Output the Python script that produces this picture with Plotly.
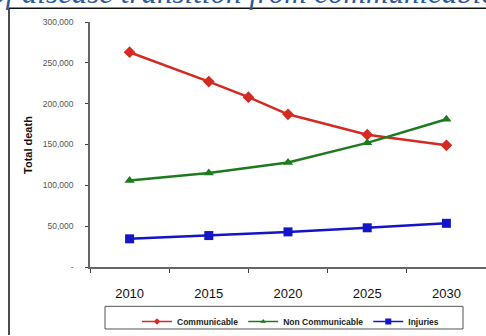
import plotly.graph_objects as go

# ---- data ----
years = [2010, 2015, 2020, 2025, 2030]
year_labels = ["2010", "2015", "2020", "2025", "2030"]
comm_x = [2010, 2015, 2017.5, 2020, 2025, 2030]
comm_y = [263000, 227000, 208000, 187000, 162000, 149000]
noncomm_y = [106000, 115000, 128000, 152000, 181000]
injuries_y = [34500, 38500, 43000, 48000, 53500]
y_ticks = [0, 50000, 100000, 150000, 200000, 250000, 300000]
y_ticktext = ["-", "50,000", "100,000", "150,000", "200,000", "250,000", "300,000"]
x_sep = [2007.5, 2012.5, 2017.5, 2022.5, 2027.5, 2032.5]

W, H = 486, 336
L, R, T, B = 90, 0, 22, 65
PW, PH = W - L - R, H - T - B


def px(x):
    return (x - L) / PW


def py(y):
    return (H - B - y) / PH


series = [
    ("Communicable", comm_x, comm_y, "#d42a22", "diamond"),
    ("Non Communicable", years, noncomm_y, "#1e7a1e", "triangle-up"),
    ("Injuries", years, injuries_y, "#1414c8", "square"),
]

fig = go.Figure()
for name, xs, ys, col, sym in series:
    fig.add_trace(go.Scatter(x=xs, y=ys, name=name, mode="lines+markers", showlegend=False,
                             line=dict(color=col, width=2.5),
                             marker=dict(symbol=sym, size=9, color=col)))
# legend entries with the small legend glyphs of the original
for name, xs, ys, col, sym in series:
    fig.add_trace(go.Scatter(x=[None], y=[None], name=name, mode="lines+markers",
                             line=dict(color=col, width=1.5),
                             marker=dict(symbol=sym, size=5 if sym != "square" else 6, color=col)))

axis_col = "#666666"
fig.update_layout(
    width=W, height=H,
    margin=dict(l=L, r=R, t=T, b=B),
    paper_bgcolor="white", plot_bgcolor="white",
    xaxis=dict(range=[2007.5, 2032.5], tickmode="array", tickvals=years, ticktext=year_labels,
               ticks="", showline=True, linecolor=axis_col, linewidth=1.5,
               showgrid=False, zeroline=False, ticklabelstandoff=14,
               tickfont=dict(family="Liberation Sans, Arial", size=13, color="#111111"),
               minor=dict(tickmode="array", tickvals=x_sep, ticks="outside", ticklen=4,
                          tickcolor="#444444", tickwidth=1.2, showgrid=False)),
    xaxis2=dict(overlaying="x", matches="x", anchor="y", side="bottom", tickmode="array",
                tickvals=x_sep, ticks="inside", ticklen=4, tickcolor="#444444", tickwidth=1.2,
                showticklabels=False, showline=False, showgrid=False, zeroline=False),
    yaxis=dict(range=[0, 300000], tickmode="array", tickvals=y_ticks, ticktext=y_ticktext,
               ticks="outside", ticklen=3, tickcolor="#444444", tickwidth=1.2,
               showline=True, linecolor=axis_col, linewidth=1.5,
               showgrid=False, zeroline=False, ticklabelstandoff=10,
               tickfont=dict(family="Liberation Sans, Arial", size=8.5, color="#555555")),
    yaxis2=dict(overlaying="y", matches="y", anchor="x", side="left", tickmode="array",
                tickvals=y_ticks, ticks="inside", ticklen=3, tickcolor="#444444", tickwidth=1.2,
                showticklabels=False, showline=False, showgrid=False, zeroline=False),
    showlegend=True,
    legend=dict(orientation="h", x=px(137), y=py(312), xanchor="left", yanchor="top",
                bgcolor="rgba(0,0,0,0)", borderwidth=0,
                font=dict(family="Liberation Sans, Arial", size=8.5, color="#222222", weight="bold"),
                itemclick=False),
)

# frame lines of the scanned figure and legend box
fig.add_shape(type="line", xref="paper", yref="paper", x0=px(9), x1=px(490), y0=py(8), y1=py(8),
              line=dict(color="#111111", width=1.5))
fig.add_shape(type="line", xref="paper", yref="paper", x0=px(9), x1=px(9), y0=py(8), y1=py(340),
              line=dict(color="#111111", width=1.5))
fig.add_shape(type="rect", xref="paper", yref="paper", x0=px(105), x1=px(463), y0=py(311), y1=py(334),
              line=dict(color="#555555", width=1))

# y-axis title
fig.add_annotation(text="<b>Total death</b>", xref="paper", yref="paper", x=px(28), y=py(147),
                   xanchor="center", yanchor="middle", textangle=-90, showarrow=False,
                   font=dict(family="Liberation Sans, Arial", size=11, color="#111111"))

# cut-off caption at the top of the scan
fig.add_annotation(text="<i>of disease transition from communicable diseases</i>", xref="paper", yref="paper",
                   x=px(-12), y=py(11.5), xanchor="left", yanchor="bottom", showarrow=False,
                   font=dict(family="Liberation Serif, Times New Roman", size=31, color="#2E5A9C"))

fig.write_html("out.html")
